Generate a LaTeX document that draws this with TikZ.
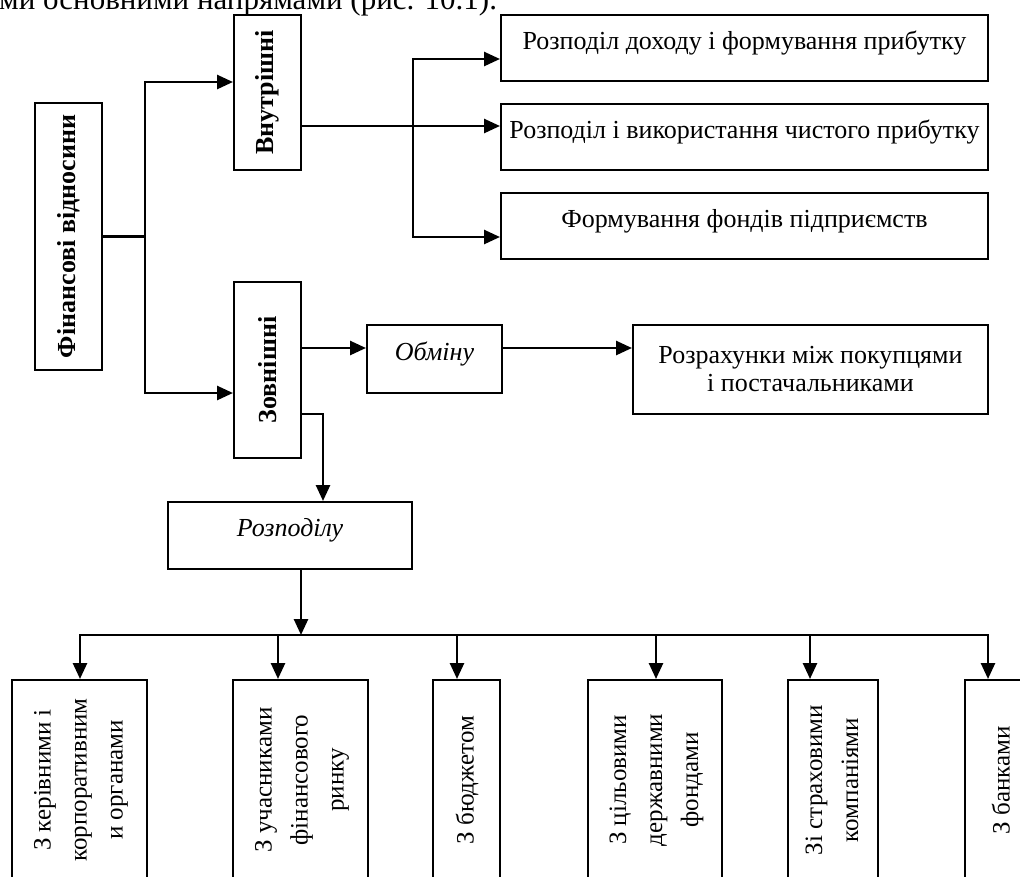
\documentclass[tikz,border=0pt]{standalone}
\usepackage{fontspec}
\setmainfont{Liberation Serif}
\usetikzlibrary{arrows.meta}
\tikzset{
  bx/.style={draw, line width=2pt, inner sep=0pt, align=center, font=\fontsize{26}{28}\selectfont},
  vbx/.style={bx, font=\fontsize{25}{36}\selectfont},
  ln/.style={line width=2.6pt},
  arr/.style={line width=2.6pt, -{Triangle[length=16pt,width=14pt]}},
  upt/.style={text height=18pt, text depth=16pt}
}
\newcommand{\vtext}[1]{\rotatebox{90}{\begin{tabular}{@{}c@{}}#1\end{tabular}}}
\begin{document}
\begin{tikzpicture}[x=1pt,y=-1pt]
\useasboundingbox (0,0) rectangle (1020,876);
\clip (0,0) rectangle (1020,876);
% header line (cut off at the top, as in the source page)
\node[anchor=base west, inner sep=0pt, font=\fontsize{31}{36}\selectfont] (hdr) at (-1,9) {ми основними напрямами (рис. 10.1).};
% main boxes
\node[bx, minimum width=67pt, minimum height=267pt, font=\bfseries\fontsize{26}{28}\selectfont] (fin) at (68.5,236.5) {\rotatebox{90}{Фінансові відносини}};
\node[bx, minimum width=67pt, minimum height=155pt, font=\bfseries\fontsize{26}{28}\selectfont] (vn) at (267.5,92.5) {\rotatebox{90}{Внутрішні}};
\node[bx, minimum width=67pt, minimum height=176pt, font=\bfseries\fontsize{26}{28}\selectfont] (zv) at (267.5,370) {\rotatebox{90}{Зовнішні}};
\node[bx, upt, minimum width=487pt, minimum height=66pt] (b1) at (744.5,48) {Розподіл доходу і формування прибутку};
\node[bx, upt, minimum width=487pt, minimum height=66pt] (b2) at (744.5,137) {Розподіл і використання чистого прибутку};
\node[bx, upt, minimum width=487pt, minimum height=66pt] (b3) at (744.5,226) {Формування фондів підприємств};
\node[bx, upt, minimum width=135pt, minimum height=68pt, font=\itshape\fontsize{26}{28}\selectfont] (ob) at (434.5,359) {Обміну};
\node[bx, minimum width=355pt, minimum height=89pt] (rz) at (810.5,369.5) {Розрахунки між покупцями\\і постачальниками};
\node[bx, upt, minimum width=244pt, minimum height=67pt, font=\itshape\fontsize{26}{28}\selectfont] (rp) at (290,535.5) {Розподілу};
% children
\node[vbx, minimum width=135pt, minimum height=200pt] (c1) at (79.5,780) {\vtext{З керівними і\\корпоративним\\и органами}};
\node[vbx, minimum width=135pt, minimum height=200pt] (c2) at (300.5,780) {\vtext{З учасниками\\фінансового\\ринку}};
\node[vbx, minimum width=67pt, minimum height=200pt] (c3) at (466.5,780) {\vtext{З бюджетом}};
\node[vbx, minimum width=134pt, minimum height=200pt] (c4) at (655,780) {\vtext{З цільовими\\державними\\фондами}};
\node[vbx, minimum width=90pt, minimum height=200pt] (c5) at (833,780) {\vtext{Зі страховими\\компаніями}};
\node[vbx, minimum width=75pt, minimum height=200pt] (c6) at (1002.5,780) {\vtext{З банками}};
% connectors: top level
\coordinate (ja) at (145,82);
\coordinate (jb) at (145,393);
\draw[ln] (fin.east) -- (fin.east -| ja);
\draw[ln, line cap=rect] (ja) -- (jb);
\draw[arr] (ja) -- (ja -| vn.west);
\draw[arr] (jb) -- (jb -| zv.west);
% internal
\coordinate (k1) at (413,59);
\coordinate (k2) at (413,126);
\coordinate (k3) at (413,237);
\draw[arr] (vn.east |- k2) -- (b2.west |- k2);
\draw[ln, line cap=rect] (k1) -- (k3);
\draw[arr] (k1) -- (k1 -| b1.west);
\draw[arr] (k3) -- (k3 -| b3.west);
% external
\coordinate (m1) at (320,348);
\coordinate (m2) at (323,414);
\draw[arr] (zv.east |- m1) -- (ob.west |- m1);
\draw[arr] (ob.east |- m1) -- (rz.west |- m1);
\draw[arr] (zv.east |- m2) -- (m2) -- (m2 |- rp.north);
% distribution bus
\coordinate (n0) at (301,635);
\coordinate (t1) at (80,635);
\coordinate (t2) at (278,635);
\coordinate (t3) at (457,635);
\coordinate (t4) at (656,635);
\coordinate (t5) at (810,635);
\coordinate (t6) at (988,635);
\draw[arr] (rp.south -| n0) -- (n0);
\draw[ln, line cap=rect] (t1) -- (t6);
\draw[arr] (t1) -- (t1 |- c1.north);
\draw[arr] (t2) -- (t2 |- c2.north);
\draw[arr] (t3) -- (t3 |- c3.north);
\draw[arr] (t4) -- (t4 |- c4.north);
\draw[arr] (t5) -- (t5 |- c5.north);
\draw[arr] (t6) -- (t6 |- c6.north);
\end{tikzpicture}
\end{document}
